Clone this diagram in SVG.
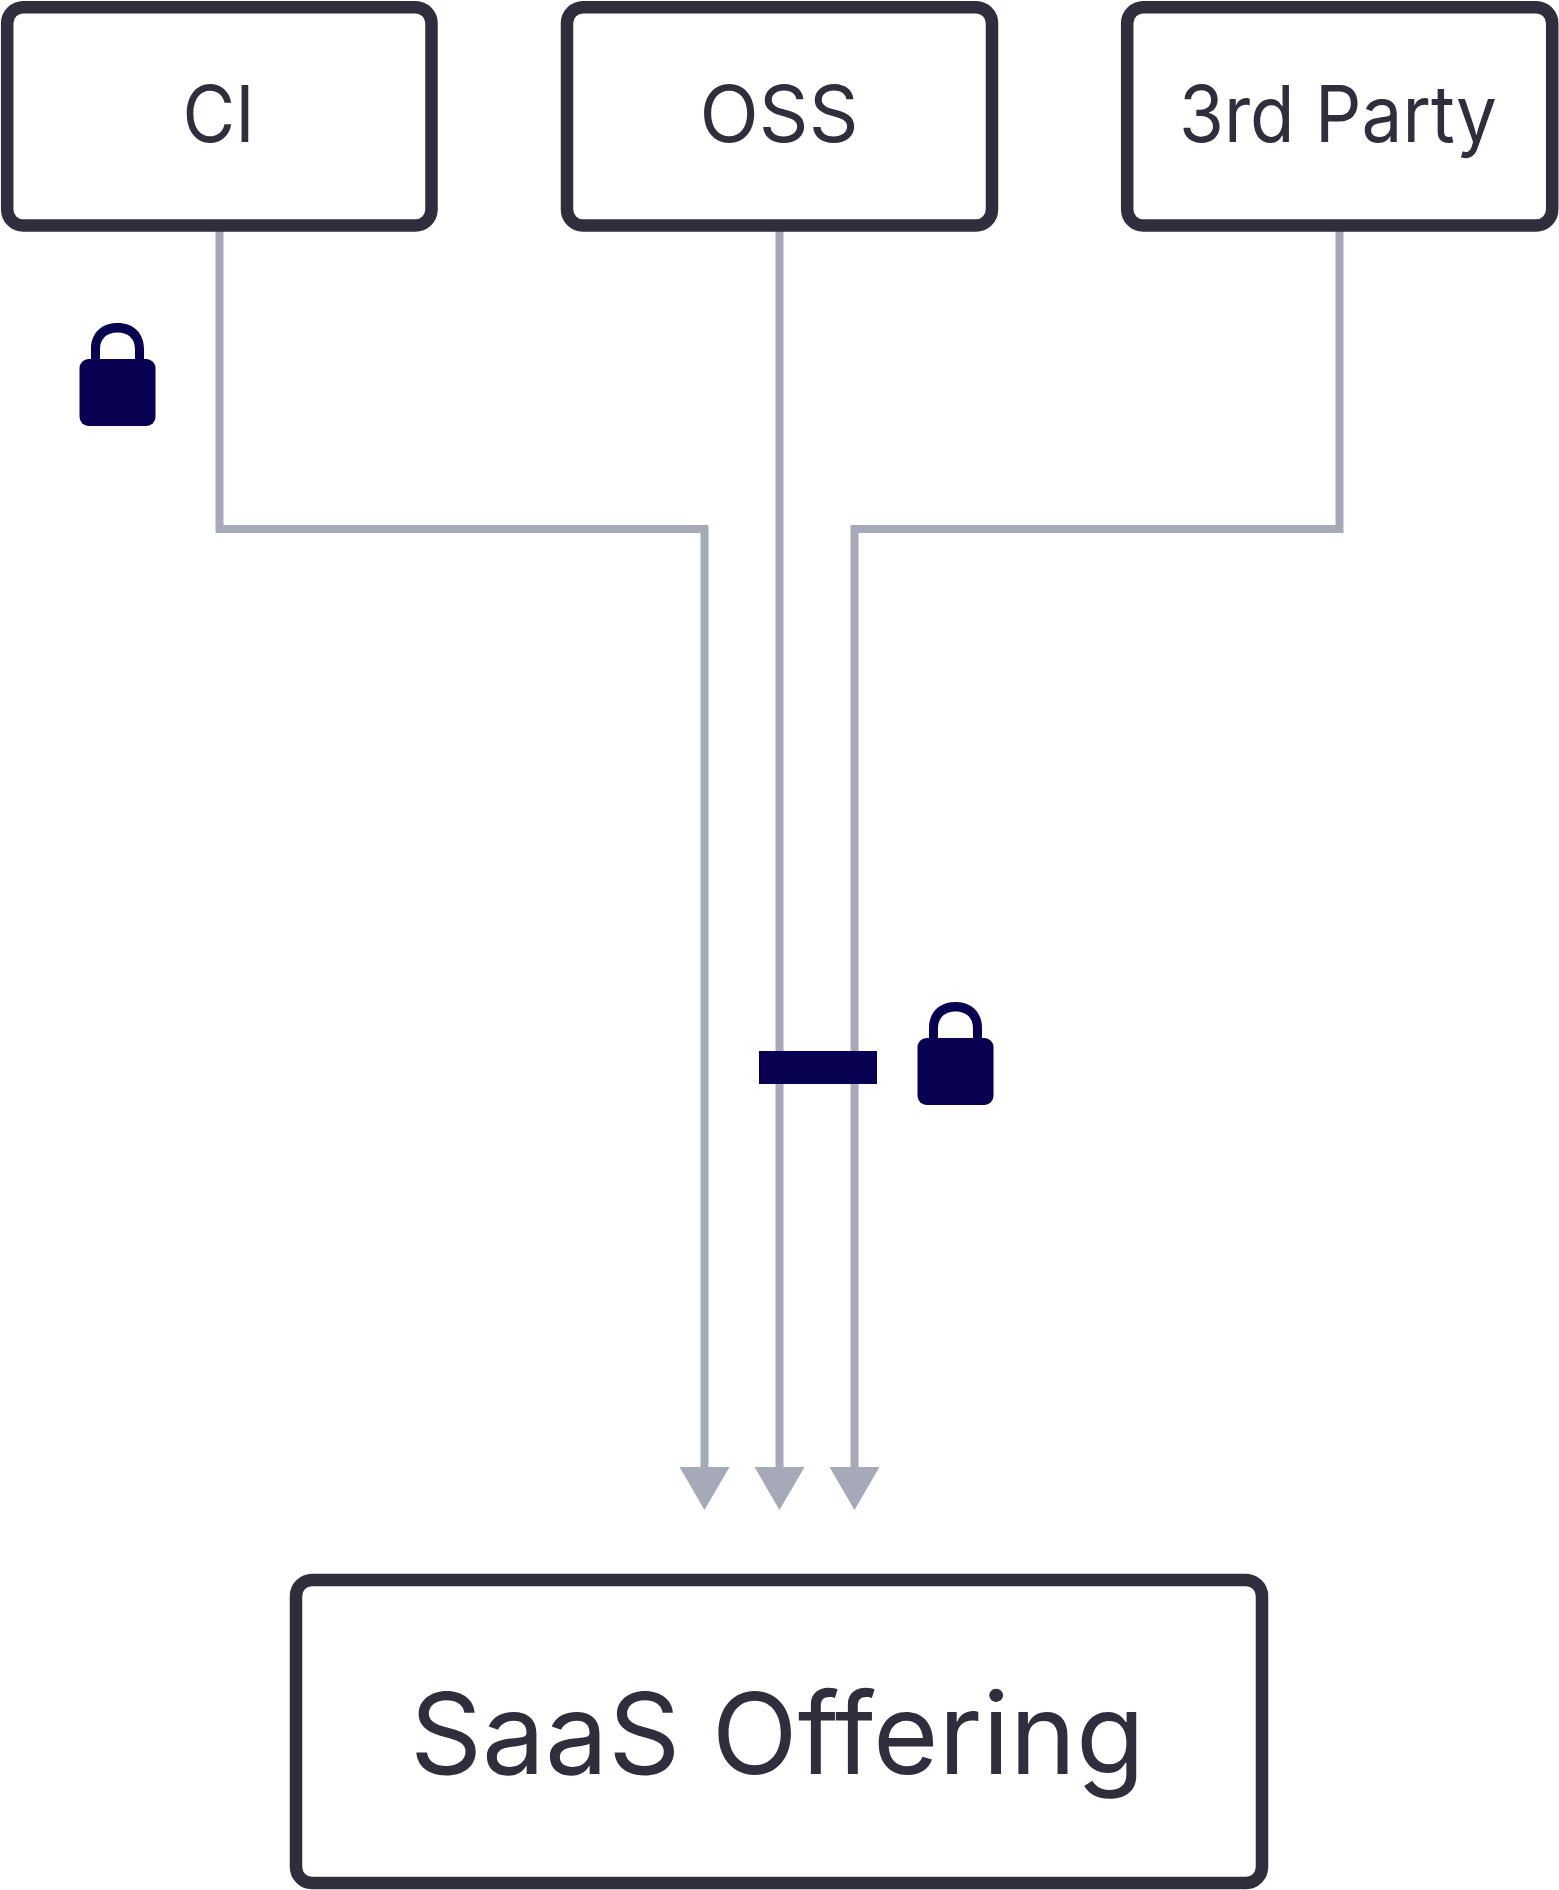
<svg xmlns="http://www.w3.org/2000/svg" width="1559" height="1890" viewBox="0 0 1559 1890">
<style>
.box{fill:#fff;stroke:#2f2e3c;stroke-width:12.500}
.lbl{font-family:"Inter","Liberation Sans",sans-serif;font-weight:400;fill:#2f2e3c}
.conn{fill:none;stroke:#a5a9b8;stroke-width:8}
.head{fill:#a5a9b8}
.navy{fill:#080050}
</style>
<defs>
<g id="lock">
<path class="navy" fill-rule="evenodd" d="M11.500 38V26C11.500 10 22 0 38 0S64.500 10 64.500 26V38H55.500V26C55.500 16 49 9.500 38 9.500S20.500 16 20.500 26V38Z"/>
<rect class="navy" x="0" y="36" width="76" height="67" rx="9"/>
</g>
</defs>
<rect width="1559" height="1890" fill="#fff"/>
<g id="connectors">
<path class="conn" d="M219.500 231V529H704.500V1470"/>
<path class="conn" d="M779.500 231V1470"/>
<path class="conn" d="M1339.500 231V529H854.500V1470"/>
<path class="head" d="M679.500 1467h50l-25 43z"/>
<path class="head" d="M754.500 1467h50l-25 43z"/>
<path class="head" d="M829.500 1467h50l-25 43z"/>
</g>
<g id="node-ci"><rect class="box" x="7.200" y="7.200" width="424.300" height="218.300" rx="16"/><text class="lbl" x="218.500" y="142" font-size="78" text-anchor="middle" textLength="72" lengthAdjust="spacingAndGlyphs">CI</text></g>
<g id="node-oss"><rect class="box" x="567" y="7.200" width="425" height="218.300" rx="16"/><text class="lbl" x="779" y="142" font-size="78" text-anchor="middle" textLength="159" lengthAdjust="spacingAndGlyphs">OSS</text></g>
<g id="node-3rd-party"><rect class="box" x="1127.200" y="7.200" width="425" height="218.300" rx="16"/><text class="lbl" x="1338" y="142" font-size="78" text-anchor="middle" textLength="318" lengthAdjust="spacingAndGlyphs">3rd Party</text></g>
<g id="node-saas"><rect class="box" x="296" y="1580" width="966" height="303" rx="16"/><text class="lbl" x="777.500" y="1774" font-size="113" text-anchor="middle" textLength="735" lengthAdjust="spacingAndGlyphs">SaaS Offering</text></g>
<g id="lock-ci"><use href="#lock" x="79.500" y="323"/></g>
<g id="lock-oss"><rect class="navy" x="759" y="1051" width="118" height="33"/><use href="#lock" x="917.500" y="1002"/></g>
</svg>
